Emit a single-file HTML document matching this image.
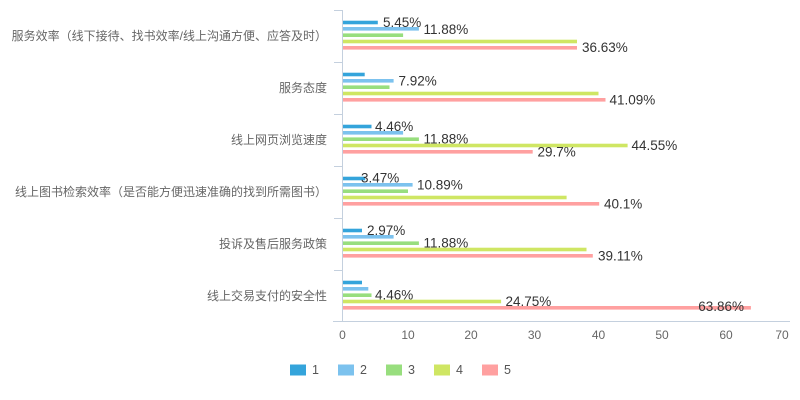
<!DOCTYPE html>
<html>
<head>
<meta charset="utf-8">
<style>
html,body{margin:0;padding:0;background:#fff;}
svg{display:block;}
.cat{font-family:"Liberation Sans","Noto Sans CJK SC",sans-serif;font-size:12px;fill:#666;}
.tick{font-family:"Liberation Sans","Noto Sans CJK SC",sans-serif;font-size:12px;fill:#666;}
.lbl{font-family:"Liberation Sans","Noto Sans CJK SC",sans-serif;font-size:13.5px;fill:#333;}
.leg{font-family:"Liberation Sans","Noto Sans CJK SC",sans-serif;font-size:12.5px;fill:#555;}
</style>
</head>
<body>
<svg width="800" height="400" viewBox="0 0 800 400" xmlns="http://www.w3.org/2000/svg">
<!-- axes -->
<line x1="342.5" y1="10" x2="342.5" y2="322" stroke="#c4d0de" stroke-width="1"/>
<line x1="333" y1="321.5" x2="790" y2="321.5" stroke="#c4d0de" stroke-width="1"/>
<g stroke="#c4d0de" stroke-width="1">
<line x1="334" y1="10.5" x2="342" y2="10.5"/>
<line x1="334" y1="62.5" x2="342" y2="62.5"/>
<line x1="334" y1="114.5" x2="342" y2="114.5"/>
<line x1="334" y1="166.5" x2="342" y2="166.5"/>
<line x1="334" y1="218.5" x2="342" y2="218.5"/>
<line x1="334" y1="270.5" x2="342" y2="270.5"/>
</g>

<!-- category labels -->
<g class="cat" text-anchor="end" dominant-baseline="central">
<text x="327" y="36">服务效率（线下接待、找书效率/线上沟通方便、应答及时）</text>
<text x="327" y="88">服务态度</text>
<text x="327" y="140">线上网页浏览速度</text>
<text x="327" y="192">线上图书检索效率（是否能方便迅速准确的找到所需图书）</text>
<text x="327" y="244">投诉及售后服务政策</text>
<text x="327" y="296">线上交易支付的安全性</text>
</g>

<!-- x tick labels -->
<g class="tick" text-anchor="middle" dominant-baseline="central">
<text x="342.5" y="335">0</text>
<text x="408" y="335">10</text>
<text x="471" y="335">20</text>
<text x="534.5" y="335">30</text>
<text x="598.5" y="335">40</text>
<text x="662" y="335">50</text>
<text x="726" y="335">60</text>
<text x="782" y="335">70</text>
</g>

<!-- bars -->
<g id="bars"></g>
<g id="labels" class="lbl" dominant-baseline="central"></g>

<!-- legend -->
<rect x="290" y="364.5" width="16" height="11" fill="#34a4db"/>
<text class="leg" x="312" y="370" dominant-baseline="central">1</text>
<rect x="338" y="364.5" width="16" height="11" fill="#7cc2ee"/>
<text class="leg" x="360" y="370" dominant-baseline="central">2</text>
<rect x="386" y="364.5" width="16" height="11" fill="#98de7e"/>
<text class="leg" x="408" y="370" dominant-baseline="central">3</text>
<rect x="434" y="364.5" width="16" height="11" fill="#cfe663"/>
<text class="leg" x="456" y="370" dominant-baseline="central">4</text>
<rect x="482" y="364.5" width="16" height="11" fill="#ffa0a0"/>
<text class="leg" x="504" y="370" dominant-baseline="central">5</text>

<!-- Category 1 -->
<rect x="343" y="20.7" width="34.8" height="3.6" fill="#34a4db"/>
<rect x="343" y="27.0" width="75.9" height="3.6" fill="#7cc2ee"/>
<rect x="343" y="33.4" width="60.1" height="3.6" fill="#98de7e"/>
<rect x="343" y="39.7" width="234.0" height="3.6" fill="#cfe663"/>
<rect x="343" y="46.0" width="234.0" height="3.6" fill="#ffa0a0"/>
<text class="lbl" x="383" y="22.5" dominant-baseline="central">5.45%</text>
<text class="lbl" x="423.5" y="29.5" dominant-baseline="central">11.88%</text>
<text class="lbl" x="582" y="47.5" dominant-baseline="central">36.63%</text>

<!-- Category 2 -->
<rect x="343" y="72.7" width="21.7" height="3.6" fill="#34a4db"/>
<rect x="343" y="79.0" width="50.6" height="3.6" fill="#7cc2ee"/>
<rect x="343" y="85.4" width="46.5" height="3.6" fill="#98de7e"/>
<rect x="343" y="91.7" width="255.5" height="3.6" fill="#cfe663"/>
<rect x="343" y="98.0" width="262.5" height="3.6" fill="#ffa0a0"/>
<text class="lbl" x="398.5" y="81" dominant-baseline="central">7.92%</text>
<text class="lbl" x="609.5" y="100" dominant-baseline="central">41.09%</text>

<!-- Category 3 -->
<rect x="343" y="124.7" width="28.5" height="3.6" fill="#34a4db"/>
<rect x="343" y="131.0" width="60.1" height="3.6" fill="#7cc2ee"/>
<rect x="343" y="137.4" width="75.9" height="3.6" fill="#98de7e"/>
<rect x="343" y="143.7" width="284.6" height="3.6" fill="#cfe663"/>
<rect x="343" y="150.0" width="189.7" height="3.6" fill="#ffa0a0"/>
<text class="lbl" x="375" y="126.5" dominant-baseline="central">4.46%</text>
<text class="lbl" x="423.5" y="139.2" dominant-baseline="central">11.88%</text>
<text class="lbl" x="631.5" y="145.5" dominant-baseline="central">44.55%</text>
<text class="lbl" x="537.5" y="151.8" dominant-baseline="central">29.7%</text>

<!-- Category 4 -->
<rect x="343" y="176.7" width="22.2" height="3.6" fill="#34a4db"/>
<rect x="343" y="183.0" width="69.6" height="3.6" fill="#7cc2ee"/>
<rect x="343" y="189.4" width="65.0" height="3.6" fill="#98de7e"/>
<rect x="343" y="195.7" width="223.6" height="3.6" fill="#cfe663"/>
<rect x="343" y="202.0" width="256.2" height="3.6" fill="#ffa0a0"/>
<text class="lbl" x="361" y="178" dominant-baseline="central">3.47%</text>
<text class="lbl" x="417" y="184.8" dominant-baseline="central">10.89%</text>
<text class="lbl" x="604" y="203.8" dominant-baseline="central">40.1%</text>

<!-- Category 5 -->
<rect x="343" y="228.7" width="19.0" height="3.6" fill="#34a4db"/>
<rect x="343" y="235.0" width="50.6" height="3.6" fill="#7cc2ee"/>
<rect x="343" y="241.4" width="75.9" height="3.6" fill="#98de7e"/>
<rect x="343" y="247.7" width="243.5" height="3.6" fill="#cfe663"/>
<rect x="343" y="254.0" width="249.8" height="3.6" fill="#ffa0a0"/>
<text class="lbl" x="367" y="230.5" dominant-baseline="central">2.97%</text>
<text class="lbl" x="423.5" y="243.2" dominant-baseline="central">11.88%</text>
<text class="lbl" x="598" y="255.8" dominant-baseline="central">39.11%</text>

<!-- Category 6 -->
<rect x="343" y="280.7" width="19.0" height="3.6" fill="#34a4db"/>
<rect x="343" y="287.0" width="25.3" height="3.6" fill="#7cc2ee"/>
<rect x="343" y="293.4" width="28.5" height="3.6" fill="#98de7e"/>
<rect x="343" y="299.7" width="158.1" height="3.6" fill="#cfe663"/>
<rect x="343" y="306.0" width="407.9" height="3.6" fill="#ffa0a0"/>
<text class="lbl" x="375" y="295.2" dominant-baseline="central">4.46%</text>
<text class="lbl" x="505.5" y="301.5" dominant-baseline="central">24.75%</text>
<text class="lbl" x="744" y="306.5" text-anchor="end" dominant-baseline="central">63.86%</text>
</svg>
</body>
</html>
